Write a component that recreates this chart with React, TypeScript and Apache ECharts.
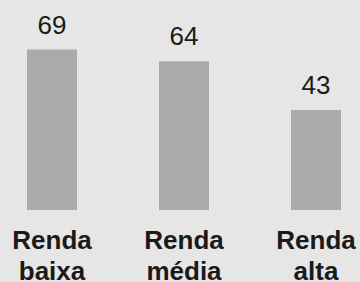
import React, { useEffect, useRef } from "react";
import * as echarts from "echarts";

const categories = ["Renda\nbaixa", "Renda\nmédia", "Renda\nalta"];
const values = [69, 64, 43];

export default function App() {
  const ref = useRef<HTMLDivElement>(null);
  useEffect(() => {
    document.body.style.margin = "0";
    const chart = echarts.init(ref.current!, null, { renderer: "svg" });
    const font = "'Liberation Sans', Arial, sans-serif";
    chart.setOption({
      animation: false,
      backgroundColor: "#e6e6e6",
      grid: {
        left: -14,
        right: -22,
        top: 0,
        bottom: 72,
        containLabel: false,
        outerBoundsMode: "none",
      },
      xAxis: {
        type: "category",
        data: categories,
        axisLine: { show: false },
        axisTick: { show: false },
        axisLabel: {
          color: "#1a1a1a",
          fontFamily: font,
          fontWeight: "bold",
          fontSize: 26,
          lineHeight: 31,
          margin: 14,
          interval: 0,
        },
      },
      yAxis: {
        type: "value",
        min: 0,
        max: 90.3,
        show: false,
        splitLine: { show: false },
      },
      series: [
        {
          type: "bar",
          data: values,
          barWidth: 50,
          itemStyle: { color: "#aaaaaa" },
          label: {
            show: true,
            position: "top",
            distance: 12,
            color: "#1a1a1a",
            fontFamily: font,
            fontSize: 26,
          },
        },
      ],
    });
    return () => chart.dispose();
  }, []);
  return (
    <div
      ref={ref}
      style={{ position: "absolute", left: 0, top: 0, width: 360, height: 282 }}
    />
  );
}
